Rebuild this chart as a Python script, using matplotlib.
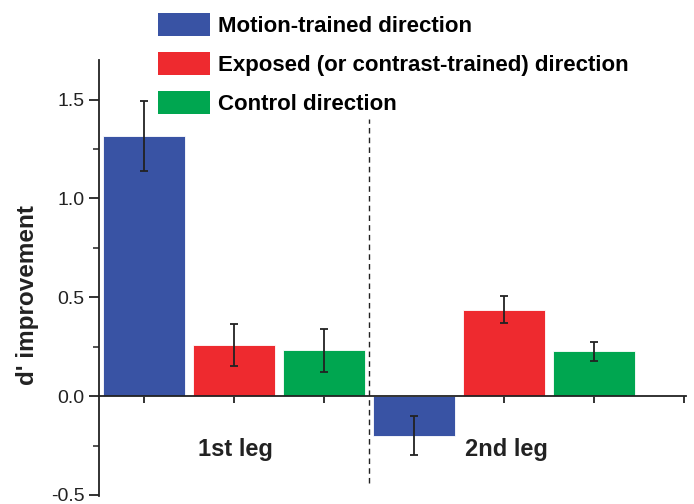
import numpy as np
import matplotlib.pyplot as plt
from matplotlib.patches import Patch
from matplotlib.ticker import MultipleLocator

plt.rcParams['font.family'] = ['Liberation Sans', 'DejaVu Sans']

# --- DATA ---
legs = ["1st leg", "2nd leg"]
conditions = ["Motion-trained direction",
              "Exposed (or contrast-trained) direction",
              "Control direction"]
means = [[1.315, 0.258, 0.232],
         [-0.200, 0.436, 0.226]]
errors = [[0.178, 0.106, 0.108],
          [0.100, 0.068, 0.047]]
colors = ["#3953A4", "#EE2A2F", "#00A650"]

fig = plt.figure(figsize=(6.94, 5.04), dpi=100)
ax = fig.add_axes([0.1427, 0.016, 0.8458, 0.865])

n_cond = len(conditions)
for g, leg in enumerate(legs):
    x = np.arange(n_cond) + g * n_cond
    ax.bar(x, means[g], width=0.91, color=colors, edgecolor="white", linewidth=0.6, zorder=2)
    ax.errorbar(x, means[g], yerr=errors[g], fmt="none", ecolor="#222222",
                elinewidth=1.3, capsize=3.2, capthick=1.3, zorder=3)
    ax.text(x.mean() + 0.02, -0.27, leg, ha="center", va="center",
            fontsize=17, fontweight="bold", color="#222222")

# divider between the two legs
ax.plot([2.5, 2.5], [-0.44, 1.40], ls=(0, (4, 3)), color="#222222", lw=1.0, zorder=1)

ax.set_xlim(-0.5, 6.02)
ax.set_ylim(-0.505, 1.70)

ax.spines["top"].set_visible(False)
ax.spines["right"].set_visible(False)
ax.spines["bottom"].set_position(("data", 0))
for s in ("left", "bottom"):
    ax.spines[s].set_linewidth(1.3)
    ax.spines[s].set_color("#222222")

ax.set_xticks(np.arange(0, 7))
ax.set_xticklabels([])
ax.tick_params(axis="x", direction="out", length=5, width=1.3, color="#222222")

ax.yaxis.set_major_locator(MultipleLocator(0.5))
ax.yaxis.set_minor_locator(MultipleLocator(0.25))
ax.set_yticks([-0.5, 0.0, 0.5, 1.0, 1.5])
ax.set_yticklabels(["-0.5", "0.0", "0.5", "1.0", "1.5"])
ax.tick_params(axis="y", which="major", direction="out", length=7, width=1.3,
               labelsize=14, color="#222222", labelcolor="#222222")
ax.tick_params(axis="y", which="minor", direction="out", length=4, width=1.1, color="#222222")

fig.text(0.040, 0.415, "d' improvement", rotation=90, ha="center", va="center",
         fontsize=17.5, fontweight="bold", color="#222222")

handles = [Patch(facecolor=c, edgecolor="none") for c in colors]
fig.legend(handles, conditions, loc="upper left", bbox_to_anchor=(0.2277, 0.974),
           frameon=False, prop={"weight": "bold", "size": 16},
           borderaxespad=0, borderpad=0,
           handlelength=2.34, handleheight=1.2, handletextpad=0.36, labelspacing=0.68)

fig.savefig("out.png", dpi=100)
